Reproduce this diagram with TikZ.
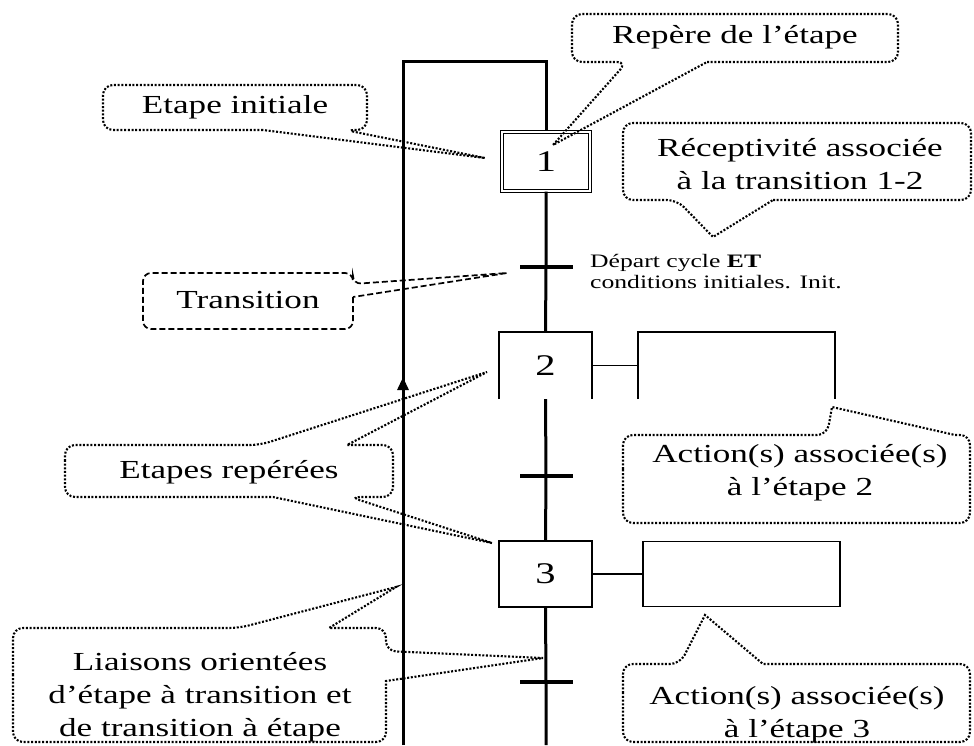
\documentclass[tikz,border=0pt]{standalone}
\usepackage{fontspec}
\setmainfont{Liberation Serif}[FakeStretch=1.35]
\usetikzlibrary{arrows.meta,decorations.markings}
\begin{document}
\begin{tikzpicture}[x=1pt,y=-1pt,
  link/.style={line width=3pt},
  boxline/.style={line width=1.9pt},
  stepbox/.style={minimum width=93pt, minimum height=67pt, inner sep=0pt,
    font=\fontsize{30}{30}\selectfont},
  actbox/.style={minimum width=197pt, inner sep=0pt},
  trans/.style={fill=black, minimum width=53pt, minimum height=3.8pt, inner sep=0pt},
  calltext/.style={align=center, inner sep=0pt, font=\fontsize{26}{33}\selectfont},
  callout/.style={line width=2.1pt, dash pattern=on 2pt off 1.7pt},
  callout dashed/.style={line width=1.7pt, dash pattern=on 6pt off 3pt},
  round box/.style={rounded corners=10pt},
]
\useasboundingbox (0,0) rectangle (974,745);

% ---- steps, actions and transitions ----
\node[stepbox, draw, double, double distance=2.6pt, line width=1.1pt,
      minimum width=88pt, minimum height=59pt] (s1) at (546,161.5) {1};
\node[stepbox] (s2) at (545.5,365.5) {2};
\node[actbox, minimum height=67pt] (a2) at (736.5,365.5) {};
\node[stepbox, draw, boxline, minimum height=66pt] (s3) at (545.5,574) {3};
\node[actbox, draw, boxline, minimum height=65pt] (a3) at (741.5,574) {};
\node[trans] (t1) at (546,267) {};
\node[trans] (t2) at (546,476) {};
\node[trans] (t3) at (546,682) {};

% open boxes of step 2 and its action
\draw[boxline] (s2.south west) -- (s2.north west) -- (s2.north east) -- (s2.south east);
\draw[boxline] (a2.south west) -- (a2.north west) -- (a2.north east) -- (a2.south east);
\draw[boxline] (s2.east) -- (a2.west);
\draw[boxline] (s3.east) -- (a3.west);

% ---- oriented links ----
\coordinate (looptop) at (403,61);
\coordinate (loopend) at (403,745);
\coordinate (mainend) at (546,745);
\draw[link, postaction={decorate}, decoration={markings,
      mark=at position 0.41 with {\arrow{Triangle[length=13pt,width=11pt]}}}]
  (loopend) -- (looptop) -| (s1.north);
\draw[link] (s1.south) -- (t1.center) -- (s2.north);
\draw[link] (s2.south) -- (t2.center) -- (s3.north);
\draw[link] (s3.south) -- (t3.center) -- (mainend);

% receptivity of transition 1-2
\node[anchor=west, align=left, inner sep=0pt, font=\fontsize{19}{21}\selectfont]
  (rc12) at (590,272) {Départ cycle \textbf{ET}\\conditions initiales. Init.};

% ---- callouts ----
\node[calltext] (ei) at (235,107) {Etape initiale};
\coordinate (ei-tip) at (485,158);
\draw[callout] (263,130) [round box] -- (103,130) -- (103,85) -- (367,85) -- (367,130)
  -- (345,130) [sharp corners] -- (ei-tip) -- cycle;

\node[calltext] (rep) at (735,37) {Repère de l’étape};
\coordinate (rep-tip) at (553,145);
\draw[callout] (707,62) [round box] -- (898,62) -- (898,14) -- (572,14) -- (572,62)
  -- (627,62) [sharp corners] -- (rep-tip) -- cycle;

\node[calltext] (rec) at (800,164) {Réceptivité associée\\à la transition 1-2};
\coordinate (rec-tip) at (713,237);
\draw[callout] (773,200) [round box] -- (971,200) -- (971,123) -- (623,123) -- (623,200)
  -- (677,200) [sharp corners] -- (rec-tip) -- cycle;

\node[calltext] (tr) at (248,300) {Transition};
\coordinate (tr-tip) at (507,273);
\draw[callout dashed] (353,297) [rounded corners=8pt] -- (353,329) -- (143,329) -- (143,273)
  -- (353,273) -- (353,284) [sharp corners] -- (tr-tip) -- cycle;

\node[calltext] (er) at (229,472) {Etapes repérées};
\coordinate (er-tip2) at (487,372);
\coordinate (er-tip3) at (492,543);
\draw[callout] (65,471) [round box] -- (65,445) -- (260,445) [sharp corners] -- (er-tip2)
  -- (347,445) [round box] -- (393,445) -- (393,497) -- (350,497) [sharp corners]
  -- (er-tip3) -- (273,497) [round box] -- (65,497) -- cycle;

\node[calltext] (ac2) at (800,473) {Action(s) associée(s)\\à l’étape 2};
\coordinate (ac2-tip) at (832,407);
\draw[callout] (623,479) [round box] -- (623,435) -- (827,435) [sharp corners] -- (ac2-tip)
  -- (955,435) [round box] -- (970,435) -- (970,523) -- (623,523) -- cycle;

\node[calltext] (ac3) at (797,715) {Action(s) associée(s)\\à l’étape 3};
\coordinate (ac3-tip) at (705,615);
\draw[callout] (623,703) [round box] -- (623,664) -- (680,664) [sharp corners] -- (ac3-tip)
  -- (763,664) [round box] -- (970,664) -- (970,742) -- (623,742) -- cycle;

\node[calltext] (li) at (200,697) {Liaisons orientées\\d’étape à transition et\\de transition à étape};
\coordinate (li-tip1) at (396,587);
\coordinate (li-tip2) at (543,658);
\draw[callout] (13,685) [round box] -- (13,628) -- (239,628) [sharp corners] -- (li-tip1)
  -- (329,628) [round box] -- (386,628) -- (386,651) [sharp corners] -- (li-tip2)
  -- (386,681) [round box] -- (386,742) -- (13,742) -- cycle;
\end{tikzpicture}
\end{document}
